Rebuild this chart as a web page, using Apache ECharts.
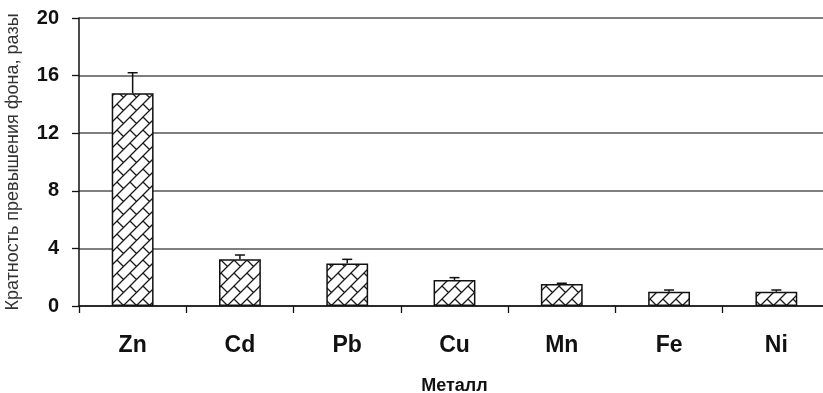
<!DOCTYPE html>
<html>
<head>
<meta charset="utf-8">
<script src="https://cdn.jsdelivr.net/npm/echarts@6/dist/echarts.min.js"></script>
<style>
html,body{margin:0;padding:0;background:#fff;}
#c{width:823px;height:393px;}
</style>
</head>
<body>
<div id="c"></div>
<script>
const categories = ['Zn', 'Cd', 'Pb', 'Cu', 'Mn', 'Fe', 'Ni'];
const values = [14.77, 3.24, 2.96, 1.81, 1.53, 0.99, 0.99];
const errorTops = [16.2, 3.54, 3.24, 1.97, 1.58, 1.11, 1.11];
const yTicks = [0, 4, 8, 12, 16, 20];
const yTitle = 'Кратность превышения фона, разы';
const xTitle = 'Металл';

function makePattern(T) {
  const c = document.createElement('canvas');
  c.width = T; c.height = T;
  const ctx = c.getContext('2d');
  ctx.fillStyle = '#fff';
  ctx.fillRect(0, 0, T, T);
  ctx.strokeStyle = '#1a1a1a';
  ctx.lineWidth = 1.3;
  ctx.beginPath();
  ctx.moveTo(-2, T + 2); ctx.lineTo(T + 2, -2);
  ctx.moveTo(-2, 2); ctx.lineTo(2, -2);
  ctx.moveTo(T - 2, T + 2); ctx.lineTo(T + 2, T - 2);
  ctx.moveTo(0, 0); ctx.lineTo(T / 2, T / 2);
  ctx.stroke();
  return c;
}

const chart = echarts.init(document.getElementById('c'));
const font = "'Liberation Sans', Arial, sans-serif";

chart.setOption({
  animation: false,
  backgroundColor: '#fff',
  grid: { left: 79, right: -7, top: 18, bottom: 87, containLabel: false, outerBoundsMode: 'none' },
  xAxis: {
    type: 'category',
    data: categories,
    boundaryGap: true,
    name: xTitle,
    nameLocation: 'middle',
    nameGap: 71,
    nameTextStyle: { fontFamily: font, fontWeight: 'bold', fontSize: 18, color: '#111' },
    axisLine: { lineStyle: { color: '#111', width: 1.5 } },
    axisTick: { show: true, length: 7, inside: false, lineStyle: { color: '#111', width: 1.3 } },
    axisLabel: { fontFamily: font, fontWeight: 'bold', fontSize: 23, color: '#111', margin: 28 }
  },
  yAxis: {
    type: 'value',
    min: 0, max: 20, interval: 4,
    name: yTitle,
    nameLocation: 'middle',
    nameGap: 57,
    nameRotate: 90,
    nameTextStyle: { fontFamily: font, fontSize: 18, color: '#333' },
    axisLine: { show: true, lineStyle: { color: '#111', width: 1.5 } },
    axisTick: { show: true, length: 7, lineStyle: { color: '#111', width: 1.3 } },
    axisLabel: {
      fontFamily: font, fontWeight: 'bold', fontSize: 20, color: '#111', margin: 20,
      formatter: v => yTicks.includes(v) ? String(v) : ''
    },
    splitLine: { show: true, lineStyle: { color: '#555', width: 1.6 } }
  },
  series: [
    {
      type: 'bar',
      data: values,
      barWidth: '39%',
      itemStyle: {
        color: { image: makePattern(13), repeat: 'repeat' },
        borderColor: '#111',
        borderWidth: 1.5
      },
      z: 2
    },
    {
      type: 'custom',
      data: categories.map((c, i) => [i, values[i], errorTops[i]]),
      renderItem: function (params, api) {
        const base = api.coord([api.value(0), api.value(1)]);
        const top = api.coord([api.value(0), api.value(2)]);
        const st = { stroke: '#111', lineWidth: 1.5 };
        return {
          type: 'group',
          children: [
            { type: 'line', shape: { x1: base[0], y1: base[1], x2: base[0], y2: top[1] }, style: st },
            { type: 'line', shape: { x1: base[0] - 5, y1: top[1], x2: base[0] + 5, y2: top[1] }, style: st }
          ]
        };
      },
      z: 3
    }
  ]
});
</script>
</body>
</html>
